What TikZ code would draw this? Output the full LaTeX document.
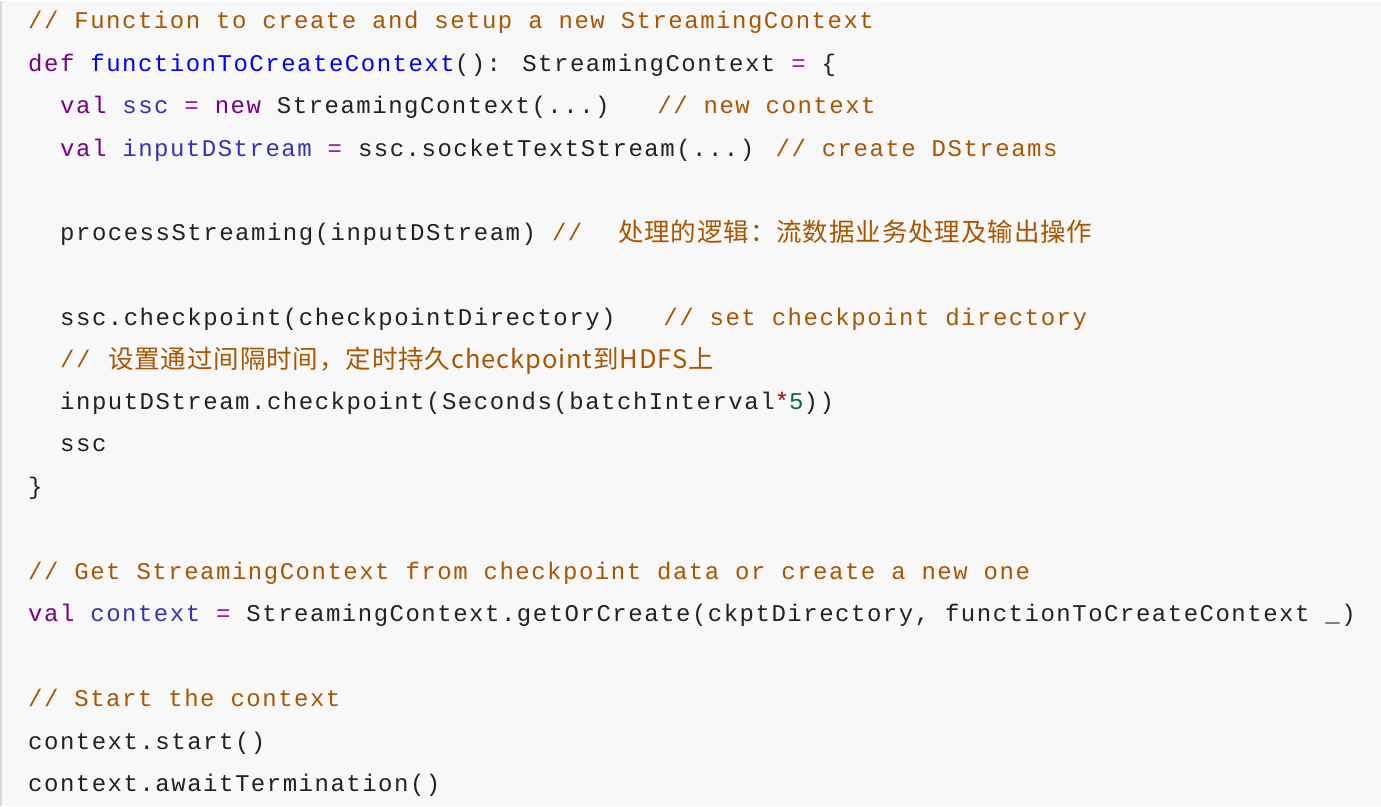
\documentclass[tikz,border=0pt]{standalone}
\usepackage{fontspec}
\newfontfamily\code[LetterSpace=6.3]{Liberation Mono}
\newfontfamily\cjk[LetterSpace=3.5]{Noto Sans CJK SC}
\definecolor{cm}{HTML}{AA5500}
\definecolor{kw}{HTML}{770088}
\definecolor{df}{HTML}{0000FF}
\definecolor{vr}{HTML}{3333BB}
\definecolor{op}{HTML}{981A9A}
\definecolor{nm}{HTML}{116644}
\definecolor{tx}{HTML}{222222}
\definecolor{bg}{HTML}{F8F8F8}
\newcommand{\Cm}[1]{\textcolor{cm}{#1}}
\newcommand{\Kw}[1]{\textcolor{kw}{#1}}
\newcommand{\Df}[1]{\textcolor{df}{#1}}
\newcommand{\Vr}[1]{\textcolor{vr}{#1}}
\newcommand{\Op}[1]{\textcolor{op}{#1}}
\begin{document}
\begin{tikzpicture}[x=1pt,y=-1pt,
  ln/.style={anchor=base west,inner sep=0pt,font=\code\fontsize{24}{24}\selectfont,text=tx},
  zh/.style={anchor=base west,inner sep=0pt,font=\cjk\fontsize{25.5}{26}\selectfont,text=cm}]
\fill[bg] (0,0) rectangle (1381,805);
\draw[gray!30,line width=1.5pt] (1,0) -- (1,805);
\node[ln] (l1) at (28,28) {\Cm{// Function to create and setup a new StreamingContext}};
\node[ln] (l2) at (28,71) {\Kw{def} \Df{functionToCreateContext}(): StreamingContext \Op{=} \{};
\node[ln] (l3) at (60,113) {\Kw{val} \Vr{ssc} \Op{=} \Kw{new} StreamingContext(...)~~~\Cm{// new context}};
\node[ln] (l4) at (60,156) {\Kw{val} \Vr{inputDStream} \Op{=} ssc.socketTextStream(...) \Cm{// create DStreams}};
\node[ln] (l5) at (60,240) {processStreaming(inputDStream) \Cm{//}};
\node[zh] (l5z) at (618,241) {处理的逻辑：流数据业务处理及输出操作};
\node[ln] (l6) at (60,325) {ssc.checkpoint(checkpointDirectory)~~~\Cm{// set checkpoint directory}};
\node[ln] (l7) at (60,367) {\Cm{//}};
\node[zh] (l7z) at (108,368) {设置通过间隔时间，定时持久checkpoint到HDFS上};
\node[ln] (l8) at (60,409) {inputDStream.checkpoint(Seconds(batchInterval\textcolor{red!70!black}{*}\textcolor{nm}{5}))};
\node[ln] (l9) at (60,451) {ssc};
\node[ln] (l10) at (28,494) {\}};
\node[ln] (l11) at (28,579) {\Cm{// Get StreamingContext from checkpoint data or create a new one}};
\node[ln] (l12) at (28,621) {\Kw{val} \Vr{context} \Op{=} StreamingContext.getOrCreate(ckptDirectory, functionToCreateContext \_)};
\node[ln] (l13) at (28,706) {\Cm{// Start the context}};
\node[ln] (l14) at (28,749) {context.start()};
\node[ln] (l15) at (28,791) {context.awaitTermination()};
\end{tikzpicture}
\end{document}
